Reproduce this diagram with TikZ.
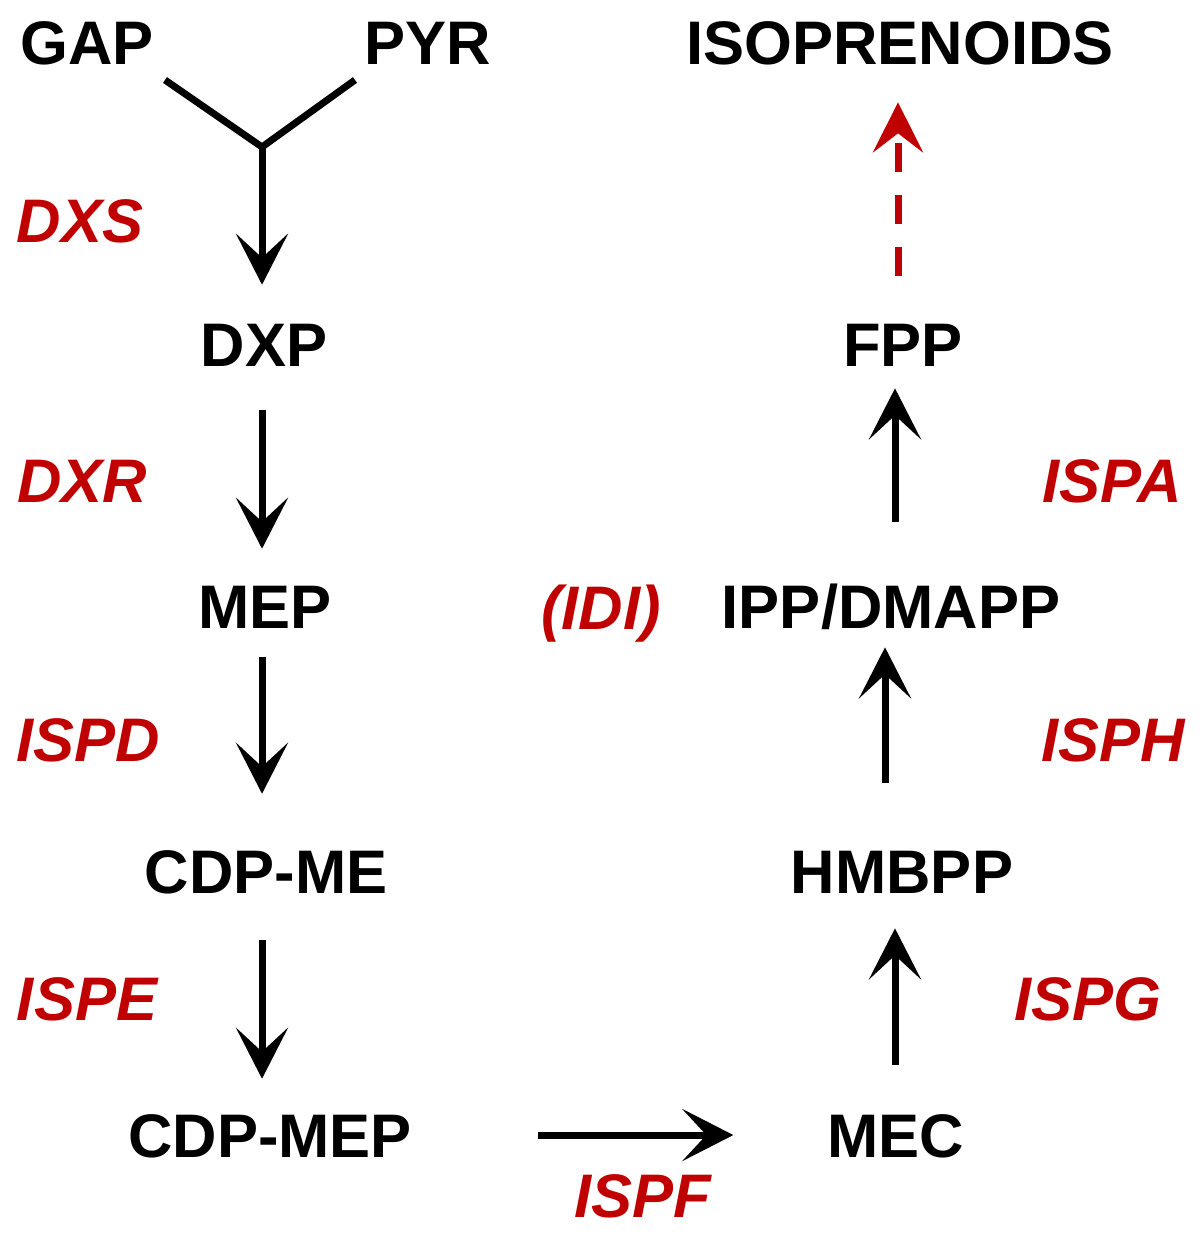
\documentclass[tikz,border=0pt]{standalone}
\usepackage{fontspec}
\setmainfont{Liberation Sans}
\usetikzlibrary{arrows.meta}
\definecolor{enzred}{RGB}{192,0,0}

\begin{document}
\begin{tikzpicture}[
    x=0.02cm, y=-0.02cm,
    chem/.style={font=\bfseries\fontsize{35}{42}\selectfont, inner sep=0pt, text height=25pt, text depth=0pt, anchor=base},
    enzyme/.style={chem, font=\bfseries\itshape\fontsize{35}{42}\selectfont, text=enzred},
    link/.style={line width=0.14cm},
    arrow/.style={link, -{Stealth[length=1.02cm, width=1.04cm, inset=0.48cm]}},
    dasharrow/.style={link, enzred, dash pattern=on 0.58cm off 0.46cm, -{Stealth[length=1cm, width=1cm, inset=0.38cm]}}
]
    \useasboundingbox (0,0) rectangle (1200,1233);

    \node[chem] (gap) at (87,65) {GAP};
    \node[chem] (pyr) at (428,65) {PYR};
    \node[chem] (iso) at (900,65) {ISOPRENOIDS};
    \node[chem] (dxp) at (264,366) {DXP};
    \node[chem] (fpp) at (903,366) {FPP};
    \node[chem] (mep) at (265,628) {MEP};
    \node[chem] (ipp) at (891,628) {IPP/DMAPP};
    \node[chem] (cdpme) at (266,893) {CDP-ME};
    \node[chem] (hmbpp) at (902,893) {HMBPP};
    \node[chem] (cdpmep) at (270,1157) {CDP-MEP};
    \node[chem] (mec) at (896,1157) {MEC};

    \node[enzyme] (dxs) at (80,242) {DXS};
    \node[enzyme] (dxr) at (82,502) {DXR};
    \node[enzyme] (ispd) at (88,761) {ISPD};
    \node[enzyme] (ispe) at (87,1020) {ISPE};
    \node[enzyme] (ispf) at (643,1217) {ISPF};
    \node[enzyme] (ispg) at (1088,1020) {ISPG};
    \node[enzyme] (isph) at (1113,761) {ISPH};
    \node[enzyme] (ispa) at (1112,502) {ISPA};
    \node[enzyme] (idi) at (601,629) {(IDI)};

    \coordinate (gapfoot) at (165,80);
    \coordinate (pyrfoot) at (355,80);
    \coordinate (junc) at (262,147);
    \coordinate (lcol) at (262,0);
    \coordinate (rcol) at (895,0);
    \coordinate (rcolb) at (885,0);
    \coordinate (dcol) at (898,0);

    % GAP and PYR join, then down the left column
    \draw[link] (gapfoot) -- (junc) -- (pyrfoot);
    \draw[arrow, shorten >=0.74cm] (junc) -- (dxp.north -| junc);
    \draw[arrow, shorten <=0.88cm, shorten >=0.70cm] (dxp.south -| lcol) -- (mep.north -| lcol);
    \draw[arrow, shorten <=0.58cm, shorten >=1.10cm] (mep.south -| lcol) -- (cdpme.north -| lcol);
    \draw[arrow, shorten <=0.94cm, shorten >=0.68cm] (cdpme.south -| lcol) -- (cdpmep.north -| lcol);
    \draw[arrow, shorten <=2.52cm, shorten >=1.88cm] (cdpmep.east) -- (mec.west);

    \draw[arrow, shorten <=0.96cm, shorten >=0.70cm] (mec.north -| rcol) -- (hmbpp.south -| rcol);
    \draw[arrow, shorten <=1.32cm, shorten >=0.38cm] (hmbpp.north -| rcolb) -- (ipp.south -| rcolb);
    \draw[arrow, shorten <=1.24cm, shorten >=0.44cm] (ipp.north -| rcol) -- (fpp.south -| rcol);
    \draw[dasharrow, shorten <=0.92cm, shorten >=0.74cm] (fpp.north -| dcol) -- (iso.south -| dcol);
\end{tikzpicture}
\end{document}
